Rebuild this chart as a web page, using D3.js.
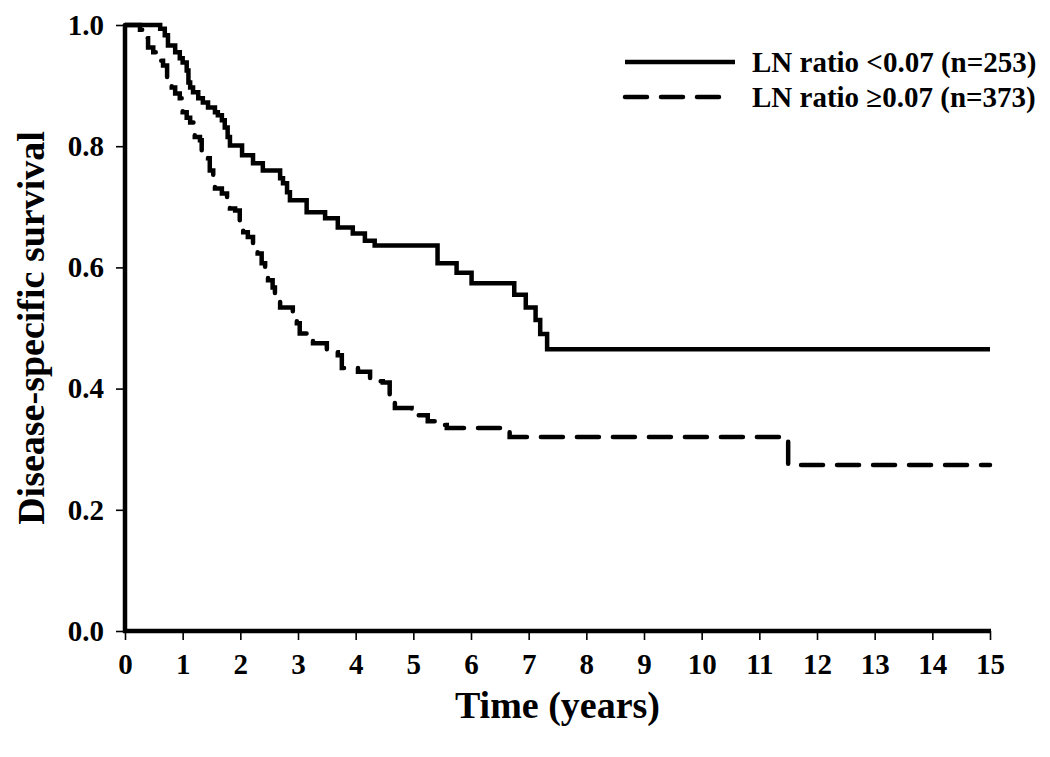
<!DOCTYPE html>
<html>
<head>
<meta charset="utf-8">
<script src="https://cdn.jsdelivr.net/npm/d3@7"></script>
<style>
	body { margin: 0; background: #fff; }
	svg text { font-family: "Liberation Serif", "Times New Roman", serif; font-weight: bold; fill: #000; }
</style>
</head>
<body>
<svg id="km" width="1050" height="757"></svg>
<script>
// Kaplan-Meier steps: time (years) where survival drops to the value
const lowTimes = [0, 0.61, 0.69, 0.745, 0.87, 0.95, 1.0, 1.07, 1.10, 1.13, 1.18, 1.27, 1.35, 1.44, 1.56, 1.61, 1.68, 1.73, 1.78, 1.82, 2.03, 2.22, 2.39, 2.69, 2.74, 2.81, 2.86, 3.15, 3.47, 3.69, 3.95, 4.16, 4.33, 5.42, 5.75, 6.01, 6.75, 6.95, 7.12, 7.20, 7.32, 15];
const lowSurv = [1.0, 0.994, 0.983, 0.966, 0.955, 0.945, 0.938, 0.925, 0.905, 0.897, 0.889, 0.879, 0.872, 0.864, 0.856, 0.851, 0.843, 0.831, 0.815, 0.801, 0.785, 0.772, 0.760, 0.747, 0.739, 0.724, 0.711, 0.691, 0.681, 0.666, 0.656, 0.644, 0.636, 0.607, 0.591, 0.574, 0.555, 0.534, 0.513, 0.490, 0.465, 0.465];

const highTimes = [0, 0.26, 0.38, 0.40, 0.49, 0.61, 0.66, 0.73, 0.81, 0.87, 0.95, 1.0, 1.07, 1.13, 1.21, 1.30, 1.33, 1.44, 1.47, 1.53, 1.56, 1.68, 1.77, 1.82, 1.91, 1.99, 2.05, 2.13, 2.22, 2.30, 2.37, 2.43, 2.48, 2.56, 2.60, 2.69, 2.91, 2.98, 3.03, 3.17, 3.26, 3.50, 3.69, 3.76, 4.04, 4.25, 4.47, 4.59, 4.68, 4.97, 5.25, 5.41, 5.58, 6.67, 11.5, 15];
const highSurv = [1.0, 0.992, 0.978, 0.963, 0.955, 0.941, 0.933, 0.913, 0.897, 0.887, 0.879, 0.856, 0.847, 0.839, 0.815, 0.810, 0.788, 0.780, 0.760, 0.749, 0.730, 0.722, 0.710, 0.697, 0.694, 0.669, 0.658, 0.650, 0.636, 0.623, 0.607, 0.590, 0.579, 0.567, 0.549, 0.534, 0.521, 0.508, 0.491, 0.483, 0.475, 0.460, 0.455, 0.434, 0.428, 0.412, 0.410, 0.381, 0.368, 0.356, 0.346, 0.340, 0.335, 0.320, 0.274, 0.274];

const seriesNames = ["LN ratio <0.07 (n=253)", "LN ratio \u22650.07 (n=373)"];
const xTicks = d3.range(0, 16, 1);
const yTicks = [0, 0.2, 0.4, 0.6, 0.8, 1.0];

const svg = d3.select("svg#km");
const bounds = { minX: 125, maxX: 990, minY: 25, maxY: 631 };

const x = d3.scaleLinear().domain([0, 15]).range([bounds.minX, bounds.maxX]);
const y = d3.scaleLinear().domain([0, 1]).range([bounds.maxY, bounds.minY]);

// axes
let xAxis = svg.append("g")
	.attr("transform", `translate(0 ${bounds.maxY})`)
	.call(d3.axisBottom(x).tickValues(xTicks).tickFormat(d3.format("d")).tickSize(9).tickPadding(13));
let yAxis = svg.append("g")
	.attr("transform", `translate(${bounds.minX} 0)`)
	.call(d3.axisLeft(y).tickValues(yTicks).tickFormat(d3.format(".1f")).tickSize(9).tickPadding(12));

[xAxis, yAxis].forEach(g => {
	g.select(".domain").remove();
	g.selectAll(".tick line").attr("stroke", "#000").attr("stroke-width", 1.6);
	g.selectAll(".tick text").style("font-size", "29px").attr("fill", "#000");
});

svg.append("line")
	.attr("x1", bounds.minX).attr("x2", bounds.minX)
	.attr("y1", bounds.minY - 1).attr("y2", bounds.maxY + 2)
	.attr("stroke", "#000").attr("stroke-width", 4.5);
svg.append("line")
	.attr("x1", bounds.minX - 2).attr("x2", bounds.maxX + 1)
	.attr("y1", bounds.maxY).attr("y2", bounds.maxY)
	.attr("stroke", "#000").attr("stroke-width", 4.5);

// curves
const step = d3.line()
	.x(d => x(d[0]))
	.y(d => y(d[1]))
	.curve(d3.curveStepAfter);

const curves = [
	{ pts: d3.zip(lowTimes, lowSurv), dash: null },
	{ pts: d3.zip(highTimes, highSurv), dash: "22,14" }
];

svg.append("g").selectAll("path")
	.data(curves)
	.join("path")
	.attr("d", d => step(d.pts))
	.attr("fill", "none")
	.attr("stroke", "#000")
	.attr("stroke-width", 4.5)
	.attr("stroke-linecap", d => d.dash ? "round" : "butt")
	.attr("stroke-dasharray", d => d.dash);

// legend
const legend = svg.append("g").attr("transform", "translate(623 62)");
legend.selectAll("line")
	.data(curves)
	.join("line")
	.attr("x1", 2).attr("x2", (d, i) => i ? 98 : 112)
	.attr("y1", (d, i) => i * 35).attr("y2", (d, i) => i * 35)
	.attr("stroke", "#000")
	.attr("stroke-width", 4.5)
	.attr("stroke-linecap", d => d.dash ? "round" : "butt")
	.attr("stroke-dasharray", d => d.dash);
legend.selectAll("text")
	.data(seriesNames)
	.join("text")
	.attr("x", 129)
	.attr("y", (d, i) => i * 35 + 10)
	.style("font-size", "29px")
	.text(d => d);

// axis titles
svg.append("text")
	.attr("x", (bounds.minX + bounds.maxX) / 2)
	.attr("y", 718)
	.attr("text-anchor", "middle")
	.style("font-size", "38px")
	.text("Time (years)");
svg.append("text")
	.attr("transform", `translate(44 ${(bounds.minY + bounds.maxY) / 2}) rotate(-90)`)
	.attr("text-anchor", "middle")
	.style("font-size", "38px")
	.text("Disease-specific survival");
</script>
</body>
</html>
